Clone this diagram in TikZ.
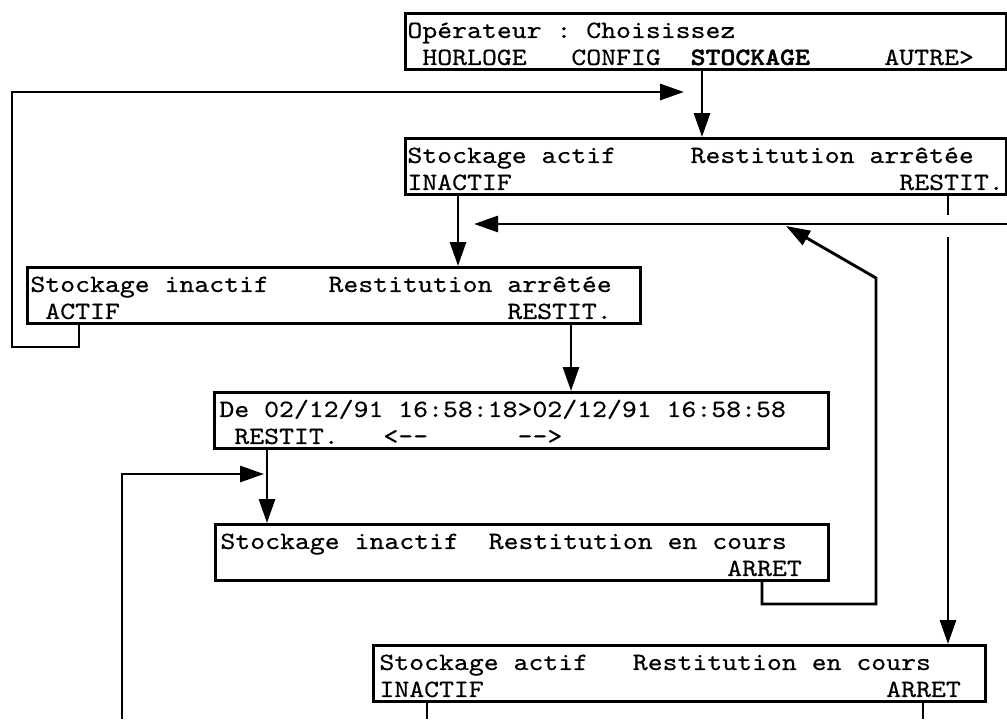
\documentclass[tikz,border=0pt]{standalone}
\usepackage{fontspec}
\setmonofont{lmmono10-regular}[Extension=.otf, FakeStretch=1.143, FakeBold=0.4,
  BoldFont=lmmonolt10-bold, BoldFeatures={FakeBold=1.8}]
\usetikzlibrary{arrows.meta}
\newcommand\lcdsize{\fontsize{12.42pt}{13.5pt}\selectfont}
\newlength\lcdcol
\settowidth\lcdcol{\ttfamily\lcdsize 0}
\newcommand\sk[1]{\leavevmode\hbox to #1\lcdcol{}}
\newcommand\lcdtop{\spaceskip=\lcdcol\xspaceskip=\lcdcol
  \noindent\vrule width 0pt height 12.25pt depth 0pt\relax}
\newcommand\lcdbot{\vrule width 0pt height 0pt depth 2.25pt\relax}
\begin{document}
\begin{tikzpicture}[>={Triangle[length=12pt,width=8pt]}, x=0.5pt, y=-0.5pt, line width=1.45pt,
  lcd/.style={draw, anchor=north west, inner ysep=0pt, align=left,
    font=\ttfamily\lcdsize,
    execute at begin node=\lcdtop,
    execute at end node=\lcdbot}]
  \useasboundingbox (0,0) rectangle (1007,719);
  \node[lcd, text width=298.5pt, inner xsep=1pt] (b1) at (404,12)
      {Opérateur : Choisissez\\\sk{1}HORLOGE\sk{3}CONFIG\sk{2}\textbf{STOCKAGE}\sk{5}AUTRE>};
  \node[lcd, text width=298.5pt, inner xsep=1pt] (b2) at (404,137)
      {Stockage actif\sk{5}Restitution arrêtée\\INACTIF\sk{26}RESTIT.};
  \node[lcd, text width=303.5pt, inner xsep=1.5pt] (b3) at (26,266)
      {Stockage inactif\sk{4}Restitution arrêtée\\\sk{1}ACTIF\sk{26}RESTIT.};
  \node[lcd, text width=302pt, inner xsep=2.5pt] (b4) at (213,391)
      {De 02/12/91 16:58:18>02/12/91 16:58:58\\\sk{1}RESTIT.\sk{3}<--\sk{6}-->};
  \node[lcd, text width=301.5pt, inner xsep=2.5pt] (b5) at (214,523)
      {Stockage inactif\sk{2}Restitution en cours\\\sk{34}ARRET};
  \node[lcd, text width=300pt, inner xsep=3pt] (b6) at (372,644)
      {Stockage actif\sk{3}Restitution en cours\\INACTIF\sk{27}ARRET};

  \coordinate (kStk) at (702,0);
  \coordinate (kIna) at (458,0);
  \coordinate (kAct) at (79,0);
  \coordinate (kRes2) at (948,0);
  \coordinate (kRes3) at (571,0);
  \coordinate (kRes4) at (267,0);
  \coordinate (kArr5) at (762,0);
  \coordinate (loopB) at (12,347);
  \coordinate (topIn) at (684,92);
  \coordinate (rightIn) at (1007,224);
  \coordinate (rightTip) at (474,224);
  \coordinate (retB) at (876,604);
  \coordinate (retT) at (876,278);
  \coordinate (retTip) at (786,226);
  \coordinate (leftIn) at (122,719);
  \coordinate (leftTip) at (264,474);
  \coordinate (gapT) at (948,215);
  \coordinate (gapB) at (948,237);
  \coordinate (outL) at (427,719);
  \coordinate (outR) at (923,719);

  \draw[->] (b1.south -| kStk) -- (b2.north -| kStk);
  \draw[->] (b3.south -| kAct) |- (loopB) |- (topIn);
  \draw[->] (b2.south -| kIna) -- (b3.north -| kIna);
  \draw[->] (rightIn) -- (rightTip);
  \draw[->] (b5.south -| kArr5) |- (retB) -- (retT) -- (retTip);
  \draw[->] (b3.south -| kRes3) -- (b4.north -| kRes3);
  \draw[->] (b4.south -| kRes4) -- (b5.north -| kRes4);
  \draw[->] (leftIn) |- (leftTip);
  \draw (b2.south -| kRes2) -- (gapT);
  \draw[->] (gapB) -- (b6.north -| kRes2);
  \draw (b6.south -| outL) -- (outL);
  \draw (b6.south -| outR) -- (outR);
\end{tikzpicture}
\end{document}
